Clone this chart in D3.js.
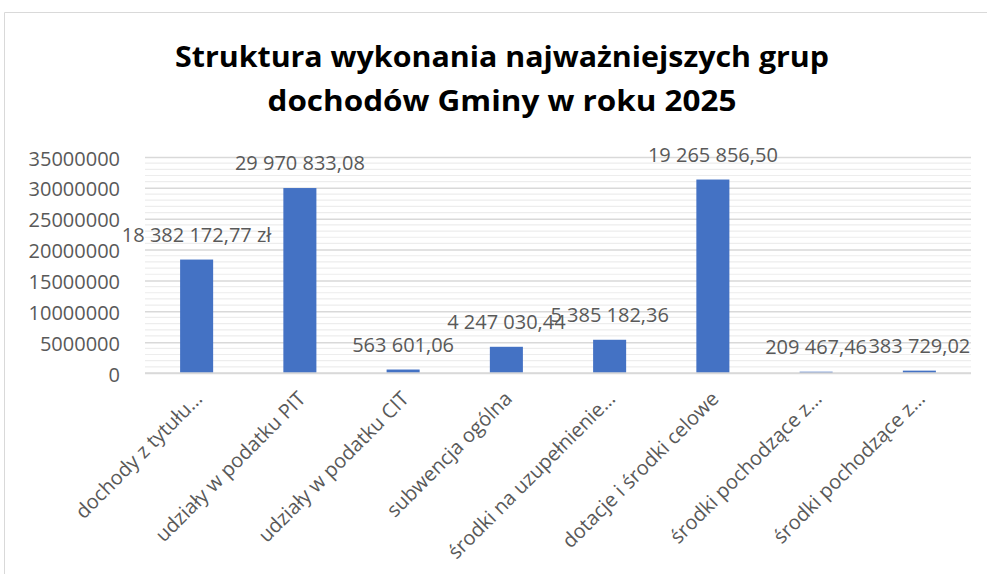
<!DOCTYPE html>
<html>
<head>
<meta charset="utf-8">
<script src="https://cdn.jsdelivr.net/npm/d3@7"></script>
<style>
  body { margin: 0; background: #fff; }
  text { font-family: "Open Sans", "Noto Sans", sans-serif; }
</style>
</head>
<body>
<div class="chart"></div>
<script>
// categories (as shown on the axis, truncated like in the original)
var categories = [
    "dochody z tytułu…",
    "udziały w podatku PIT",
    "udziały w podatku CIT",
    "subwencja ogólna",
    "środki na uzupełnienie…",
    "dotacje i środki celowe",
    "środki pochodzące z…",
    "środki pochodzące z…"
];

// bar heights
var values = [18382172.77, 29970833.08, 563601.06, 4247030.44, 5385182.36, 31350000, 209467.46, 383729.02];

// data labels as printed above the bars
var labels = [
    "18 382 172,77 zł",
    "29 970 833,08",
    "563 601,06",
    "4 247 030,44",
    "5 385 182,36",
    "19 265 856,50",
    "209 467,46",
    "383 729,02"
];

var yTicks = [0, 5000000, 10000000, 15000000, 20000000, 25000000, 30000000, 35000000];

var titleLines = ["Struktura wykonania najważniejszych grup", "dochodów Gminy w roku 2025"];

var W = 987, H = 574;
var margin = { top: 157, right: 16, bottom: 201, left: 145 };
var width = W - margin.left - margin.right,
    height = H - margin.top - margin.bottom;

var svg = d3.select(".chart").append("svg")
    .attr("width", W)
    .attr("height", H);

// chart frame (only top and left edges are visible)
svg.append("path")
    .attr("d", "M4.5," + H + "V12.5H" + W)
    .attr("fill", "none")
    .attr("stroke", "#d9d9d9")
    .attr("stroke-width", 1);

// title
svg.selectAll("text.title")
    .data(titleLines)
    .enter().append("text")
    .attr("class", "title")
    .attr("x", 502)
    .attr("y", function(d, i){ return 67 + i * 44; })
    .attr("text-anchor", "middle")
    .attr("font-size", 29)
    .attr("font-weight", "bold")
    .attr("fill", "#000")
    .attr("textLength", function(d, i){ return i === 0 ? 654 : 469; })
    .attr("lengthAdjust", "spacingAndGlyphs")
    .text(function(d){ return d; });

var g = svg.append("g")
    .attr("transform", "translate(" + margin.left + "," + margin.top + ")");

var x = d3.scaleBand()
    .domain(d3.range(categories.length))
    .range([0, width])
    .paddingInner(0.68)
    .paddingOuter(0.34);

var y = d3.scaleLinear()
    .domain([0, 35000000])
    .range([height, 0]);

// minor gridlines every 1 000 000
var minor = d3.range(1000000, 35000000, 1000000).filter(function(v){ return v % 5000000 !== 0; });
g.selectAll("line.minor")
    .data(minor)
    .enter().append("line")
    .attr("class", "minor")
    .attr("x1", 0)
    .attr("x2", width)
    .attr("y1", function(d){ return y(d); })
    .attr("y2", function(d){ return y(d); })
    .attr("stroke", "#ededed")
    .attr("stroke-width", 1.2);

// major gridlines
var yAxis = d3.axisLeft(y)
    .tickValues(yTicks)
    .tickSize(-width)
    .tickPadding(25)
    .tickFormat(d3.format("d"));

var ya = g.append("g").call(yAxis);
ya.select(".domain").remove();
ya.selectAll(".tick line")
    .attr("stroke", "#d9d9d9")
    .attr("stroke-width", 1.5);
ya.selectAll(".tick text")
    .attr("font-size", 20)
    .attr("fill", "#595959")
    .attr("font-family", "'Open Sans', 'Noto Sans', sans-serif")
    .attr("dy", "0.4em");

// bars
g.selectAll("rect.bar")
    .data(values)
    .enter().append("rect")
    .attr("class", "bar")
    .attr("x", function(d, i){ return x(i); })
    .attr("width", x.bandwidth())
    .attr("y", function(d){ return y(d); })
    .attr("height", function(d){ return height - y(d); })
    .attr("fill", "#4472c4");

// category axis line
g.append("line")
    .attr("x1", 0)
    .attr("x2", width)
    .attr("y1", height)
    .attr("y2", height)
    .attr("stroke", "#d9d9d9")
    .attr("stroke-width", 1.5);

// data labels
g.selectAll("text.lab")
    .data(values)
    .enter().append("text")
    .attr("class", "lab")
    .attr("x", function(d, i){ return x(i) + x.bandwidth() / 2; })
    .attr("y", function(d){ return y(d) - 18; })
    .attr("text-anchor", "middle")
    .attr("font-size", 20)
    .attr("fill", "#595959")
    .text(function(d, i){ return labels[i]; });

// rotated category labels
g.selectAll("text.cat")
    .data(categories)
    .enter().append("text")
    .attr("class", "cat")
    .attr("text-anchor", "end")
    .attr("font-size", 20)
    .attr("fill", "#595959")
    .attr("transform", function(d, i){
        var cx = x(i) + x.bandwidth() / 2;
        return "translate(" + (cx + 7) + "," + (height + 27) + ") rotate(-45)";
    })
    .text(function(d){ return d; });
</script>
</body>
</html>
